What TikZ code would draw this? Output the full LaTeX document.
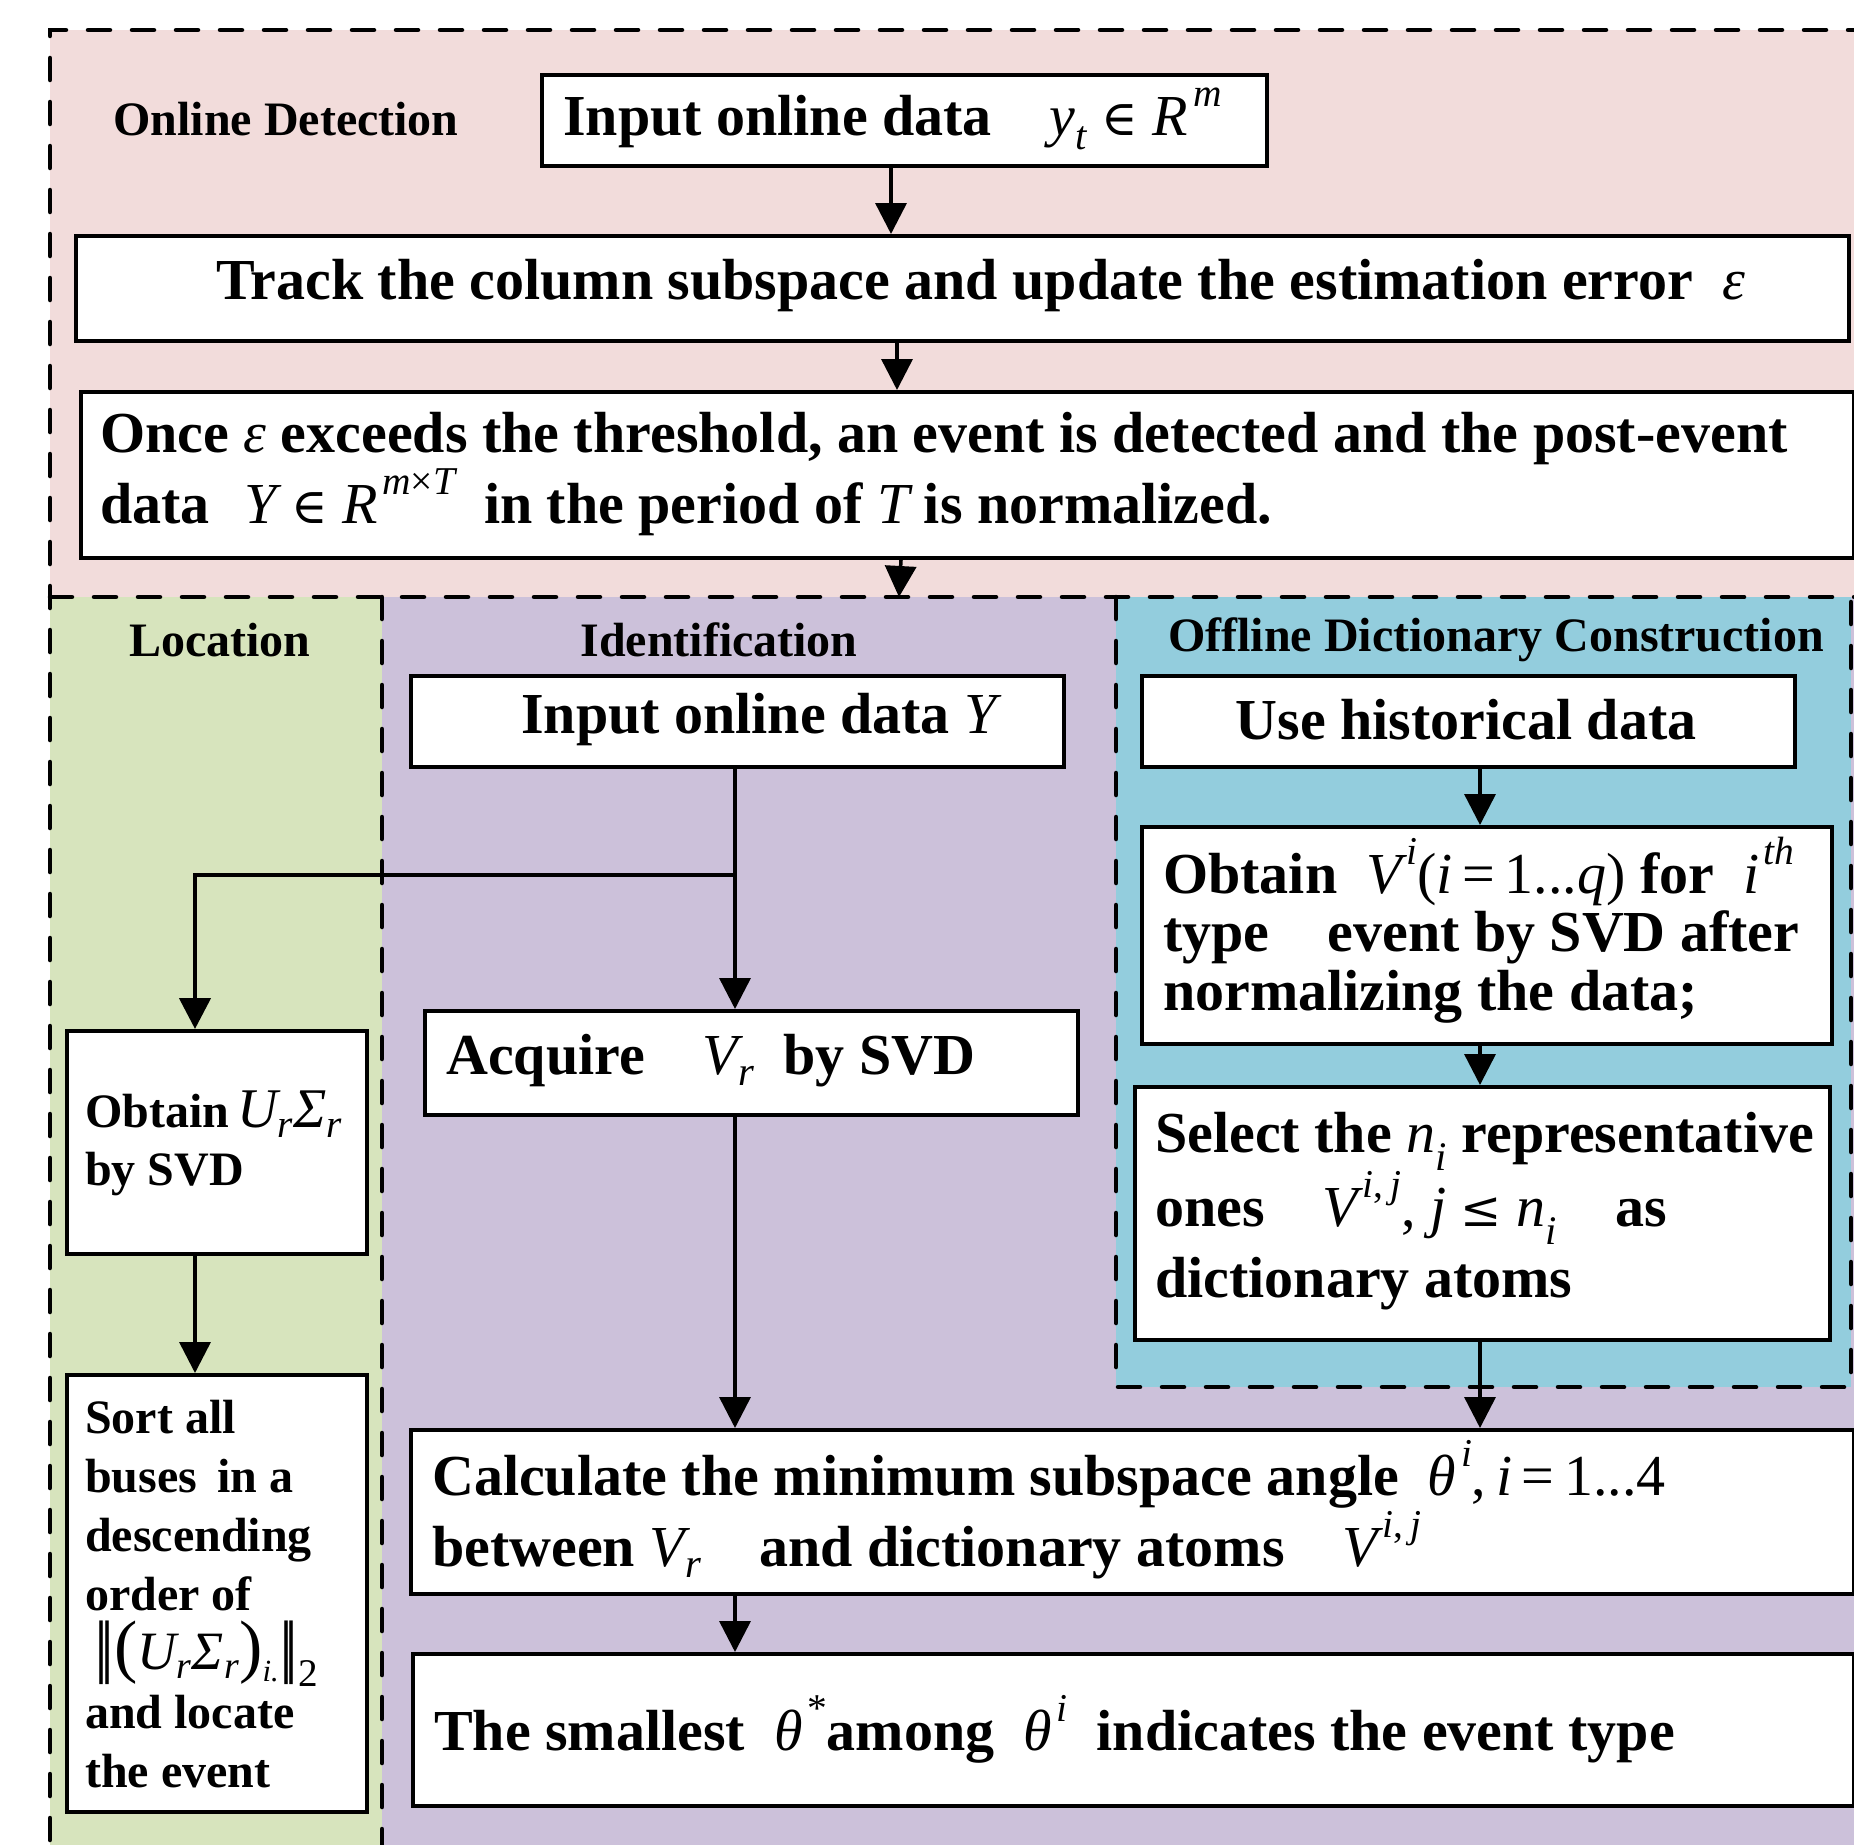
\documentclass[tikz,border=0pt]{standalone}
\usepackage{fontspec}
\usepackage{graphicx}
\setmainfont{Liberation Serif}
\newfontfamily\dvs{DejaVu Serif}[Scale=0.85]
\usetikzlibrary{arrows.meta}
\definecolor{pinkbg}{HTML}{F2DCDB}
\definecolor{greenbg}{HTML}{D7E4BD}
\definecolor{purplebg}{HTML}{CCC1DA}
\definecolor{bluebg}{HTML}{93CDDD}
\newcommand\mv[1]{{\mdseries\itshape #1}}
\newcommand\mr[1]{{\mdseries #1}}
\newcommand\sps[1]{\kern0.08em\raisebox{0.5em}{\scalebox{0.68}{#1}}}
\newcommand\elem{{\mdseries\dvs ∈}}
\newcommand\leqs{{\mdseries\dvs ≤}}
\newcommand\bigd[1]{{\mdseries\fontsize{70}{59}\selectfont #1}}
\begin{document}
\begin{tikzpicture}[x=1pt,y=-1pt,
  region/.style={draw=black, line width=4.5pt, dash pattern=on 22pt off 22pt, line cap=round},
  box/.style={draw=black, fill=white, line width=4pt, inner sep=0pt, anchor=north west},
  big/.style={font=\fontsize{58}{71}\selectfont\bfseries, inner sep=0pt, align=left, anchor=west},
  small/.style={font=\fontsize{48}{59}\selectfont\bfseries, inner sep=0pt, align=left, anchor=west},
  lbl/.style={font=\fontsize{48}{59}\selectfont\bfseries, inner sep=0pt},
  arr/.style={line width=3.5pt, -{Triangle[length=31pt,width=31pt]}}]
\useasboundingbox (0,0) rectangle (1854,1844);
\clip (0,0) rectangle (1854,1844);
% regions
\fill[pinkbg] (50,30) rectangle (1870,597);
\fill[greenbg] (50,597) rectangle (382,1870);
\fill[purplebg] (382,597) rectangle (1870,1870);
\fill[bluebg] (1116,597) rectangle (1851,1387);
\draw[region] (1870,30) -- (50,30) -- (50,1870);
\draw[region] (50,597) -- (1870,597);
\draw[region] (382,597) -- (382,1870);
\draw[region] (1116,597) -- (1116,1387) -- (1851,1387) -- (1851,597);
% labels
\node[lbl] (lOD) at (286,119) {Online Detection};
\node[lbl] (lLoc) at (220,640) {Location};
\node[lbl] (lId) at (719,640) {Identification};
\node[lbl] (lOff) at (1496,640) {Offline Dictionary Construction};
% boxes
\node[box, minimum width=725pt, minimum height=91pt] (b1) at (540,73) {};
\node[box, minimum width=1773pt, minimum height=105pt] (b2) at (74,234) {};
\node[box, minimum width=1773pt, minimum height=166pt] (b3) at (79,390) {};
\node[box, minimum width=653pt, minimum height=91pt] (bY) at (409,674) {};
\node[box, minimum width=653pt, minimum height=91pt] (bH) at (1140,674) {};
\node[box, minimum width=690pt, minimum height=217pt] (bV) at (1140,825) {};
\node[box, minimum width=695pt, minimum height=253pt] (bS) at (1133,1085) {};
\node[box, minimum width=653pt, minimum height=104pt] (bA) at (423,1009) {};
\node[box, minimum width=300pt, minimum height=223pt] (bU) at (65,1029) {};
\node[box, minimum width=300pt, minimum height=437pt] (bSort) at (65,1373) {};
\node[box, minimum width=1443pt, minimum height=164pt] (bC) at (409,1428) {};
\node[box, minimum width=1441pt, minimum height=152pt] (bT) at (411,1652) {};
% texts
\node[big] (t1) at (563,119) {Input online data\quad \mv{y}\textsubscript{\mv{t}} \elem{} \mv{R}\sps{\mv{m}}};
\node[big] (t2) at (216,286) {Track the column subspace and update the estimation error\enspace \mv{ε}};
\node[big] (t3) at (100,474) {Once \mv{ε} exceeds the threshold, an event is detected and the post-event\\data\hspace{0.6em}\mv{Y} \elem{} \mv{R}\sps{\mv{m}\mr{×}\mv{T}}\enspace in the period of \mv{T} is normalized.};
\node[big] (tY) at (521,720) {Input online data \mv{Y}};
\node[big, anchor=center] (tH) at (1466,720) {Use historical data};
\node[big, font=\fontsize{58}{58.5}\selectfont\bfseries] (tV) at (1163,930) {Obtain\enspace \mv{V}\sps{\mv{i}}\mr{(}\mv{i}\,\mr{=}\,\mr{1...}\mv{q}\mr{)} for\enspace \mv{i}\sps{\mv{th}}\\type\quad event by SVD after\\normalizing the data;};
\node[big] (tS) at (1155,1211) {Select the \mv{n}\textsubscript{\mv{i}} representative\\ones\quad \mv{V}\sps{\mv{i}\mr{,}\,\mv{j}}\mr{,} \mv{j} \leqs{} \mv{n}\textsubscript{\mv{i}}\quad as\\dictionary atoms};
\node[big] (tA) at (446,1061) {Acquire\quad \mv{V}\textsubscript{\mv{r}}\enspace by SVD};
\node[small, font=\fontsize{48}{58}\selectfont\bfseries] (tU) at (85,1143) {Obtain\,{\fontsize{56}{58}\selectfont\mv{U}\textsubscript{\mv{r}}\mv{Σ}\textsubscript{\mv{r}}}\\by SVD};
\node[small] (tSort) at (85,1594) {Sort all\\buses\, in a\\descending\\order of\\\smash{\hspace{0.2em}\bigd{|\kern-0.12em|}\bigd{(}{\mdseries\fontsize{54}{59}\selectfont\mv{U}\textsubscript{\mv{r}}\mv{Σ}\textsubscript{\mv{r}}}\bigd{)}{\fontsize{44}{59}\selectfont\textsubscript{\mv{i.}}}\bigd{|\kern-0.12em|}{\fontsize{56}{59}\selectfont\textsubscript{\mr{2}}}}\\and locate\\the event};
\node[big] (tC) at (432,1510) {Calculate the minimum subspace angle\enspace \mv{θ}\sps{\mv{i}}\mr{,}\,\mv{i}\,\mr{=}\,\mr{1...4}\\between \mv{V}\textsubscript{\mv{r}}\quad and dictionary atoms\quad \mv{V}\sps{\mv{i}\mr{,}\,\mv{j}}};
\node[big] (tT) at (434,1729) {The smallest\enspace \mv{θ}\sps{\mr{*}}among\enspace \mv{θ}\sps{\mv{i}}\enspace indicates the event type};
% connectors
\coordinate (rtop) at (899,597);
\coordinate (br) at (733,875);
\draw[arr] ([xshift=-13.5pt]b1.south) -- ([xshift=-71.5pt]b2.north);
\draw[arr] ([xshift=-65.5pt]b2.south) -- ([xshift=-70.5pt]b3.north);
\draw[arr] ([xshift=-66.5pt]b3.south) -- (rtop);
\draw[arr] ([xshift=-2.5pt]bY.south) -- ([xshift=-16.5pt]bA.north);
\draw[arr, line width=4.5pt] (br) -| ([xshift=-22pt]bU.north);
\draw[arr] ([xshift=-16.5pt]bA.south) -- ([xshift=-397.5pt]bC.north);
\draw[arr] ([xshift=11.5pt]bH.south) -- ([xshift=-7pt]bV.north);
\draw[arr] ([xshift=-7pt]bV.south) -- ([xshift=-2.5pt]bS.north);
\draw[arr] ([xshift=-2.5pt]bS.south) -- ([xshift=347.5pt]bC.north);
\draw[arr] ([xshift=-22pt]bU.south) -- ([xshift=-22pt]bSort.north);
\draw[arr] ([xshift=-397.5pt]bC.south) -- ([xshift=-398.5pt]bT.north);
\end{tikzpicture}
\end{document}
